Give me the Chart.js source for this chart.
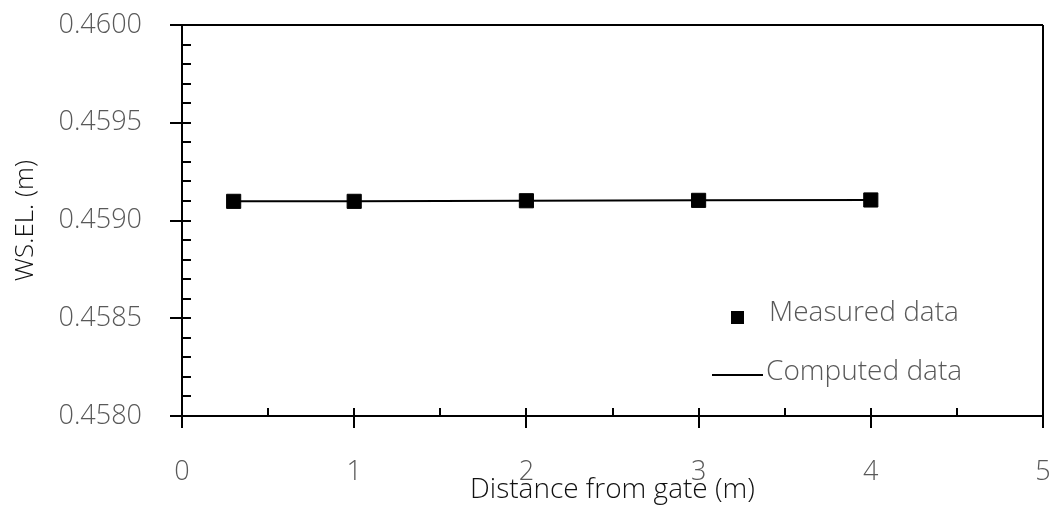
<!DOCTYPE html>
<html><head><meta charset="utf-8">
<script src="https://cdn.jsdelivr.net/npm/chart.js@4/dist/chart.umd.min.js"></script>
<style>html,body{margin:0;padding:0;background:#fff}#wrap{width:1057px;height:509px}</style>
</head><body><div id="wrap"><canvas id="c"></canvas></div>
<script>
const distances = [0.3, 1, 2, 3, 4];
const measuredWSEL = [0.459098, 0.459098, 0.459101, 0.459103, 0.459105];
const computedWSEL = [0.459098, 0.459098, 0.459101, 0.459103, 0.459105];
const xTickValues = [0, 1, 2, 3, 4, 5];
const yTickValues = [0.4580, 0.4585, 0.4590, 0.4595, 0.4600];
const legendLabels = ['Measured data', 'Computed data'];

const FONT = '"Open Sans", sans-serif';
const GRAY = '#595959';

const decor = {
  id: 'decor',
  afterDraw(chart) {
    const ctx = chart.ctx, a = chart.chartArea;
    const xs = chart.scales.x, ys = chart.scales.y;
    ctx.save();
    ctx.strokeStyle = '#000';
    ctx.lineWidth = 2;
    ctx.beginPath();
    ctx.moveTo(a.left, a.top); ctx.lineTo(a.right, a.top);
    ctx.moveTo(a.right, a.top); ctx.lineTo(a.right, a.bottom);
    ctx.stroke();
    ctx.beginPath();
    for (let v = 0; v <= 20; v++) {
      const val = 0.4580 + v * 0.0001;
      const y = Math.round(ys.getPixelForValue(val));
      const major = v % 5 === 0;
      ctx.moveTo(major ? a.left - 12 : a.left, y);
      ctx.lineTo(a.left + 9, y);
    }
    for (let v = 0; v <= 10; v++) {
      const x = Math.round(xs.getPixelForValue(v * 0.5));
      const major = v % 2 === 0;
      ctx.moveTo(x, a.bottom - 8);
      ctx.lineTo(x, major ? a.bottom + 12 : a.bottom);
    }
    ctx.stroke();
    ctx.fillStyle = '#000';
    ctx.fillRect(731, 311, 13, 13);
    ctx.beginPath();
    ctx.moveTo(712, 375); ctx.lineTo(763, 375);
    ctx.stroke();
    ctx.fillStyle = GRAY;
    ctx.font = '300 28px ' + FONT;
    ctx.textBaseline = 'middle';
    ctx.textAlign = 'left';
    ctx.fillText(legendLabels[0], 769, 313);
    ctx.fillText(legendLabels[1], 766, 372);
    ctx.restore();
  }
};

new Chart(document.getElementById('c'), {
  type: 'scatter',
  data: {
    datasets: [
      {
        label: legendLabels[0],
        data: distances.map((d, i) => ({x: d, y: measuredWSEL[i]})),
        pointStyle: 'rect',
        pointRadius: 10,
        pointBackgroundColor: '#000',
        pointBorderColor: '#000',
        pointBorderWidth: 1,
        showLine: false,
        order: 0
      },
      {
        label: legendLabels[1],
        data: distances.map((d, i) => ({x: d, y: computedWSEL[i]})),
        showLine: true,
        borderColor: '#000',
        borderWidth: 2,
        pointRadius: 0,
        fill: false,
        order: 1
      }
    ]
  },
  options: {
    responsive: true,
    maintainAspectRatio: false,
    animation: false,
    layout: {autoPadding: false, padding: {left: 0, right: 14, top: 25, bottom: 0}},
    plugins: {legend: {display: false}, tooltip: {enabled: false}},
    scales: {
      x: {
        type: 'linear',
        min: 0, max: 5,
        afterBuildTicks: s => { s.ticks = xTickValues.map(v => ({value: v})); },
        afterFit: s => { s.height = 93; s.paddingLeft = 0; s.paddingRight = 0; },
        grid: {display: false, drawTicks: false},
        border: {display: true, color: '#000', width: 2},
        ticks: {
          padding: 40,
          color: GRAY,
          font: {family: FONT, size: 27, weight: 300},
          callback: v => String(v)
        },
        title: {
          display: true,
          text: 'Distance from gate (m)',
          color: '#111',
          font: {family: FONT, size: 28, weight: 300},
          padding: {top: 0, bottom: 2}
        }
      },
      y: {
        type: 'linear',
        min: 0.4580, max: 0.4600,
        afterBuildTicks: s => { s.ticks = yTickValues.map(v => ({value: v})); },
        afterFit: s => { s.width = 182; s.paddingTop = 0; s.paddingBottom = 0; },
        grid: {display: false, drawTicks: false},
        border: {display: true, color: '#000', width: 2},
        ticks: {
          padding: 40,
          color: GRAY,
          font: {family: FONT, size: 27, weight: 300},
          callback: v => Number(v).toFixed(4)
        },
        title: {
          display: true,
          text: 'WS.EL. (m)',
          color: '#111',
          font: {family: FONT, size: 26, weight: 300},
          padding: {top: 10, bottom: 0}
        }
      }
    }
  },
  plugins: [decor]
});
</script>
</body></html>
